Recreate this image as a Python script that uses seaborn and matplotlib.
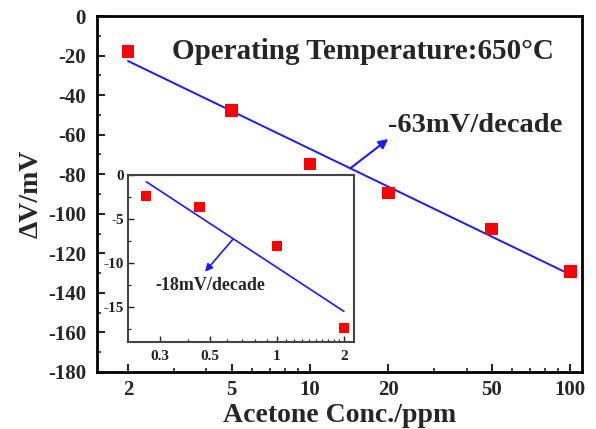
import numpy as np
import pandas as pd
import matplotlib
matplotlib.use("Agg")
import matplotlib.pyplot as plt
from matplotlib.ticker import FixedLocator, FuncFormatter, NullFormatter
import seaborn as sns

# ---- data ----
conc_main = [2, 5, 10, 20, 50, 100]
dv_main = [-18.0, -47.6, -74.8, -89.5, -107.7, -129.0]
conc_inset = [0.26, 0.45, 1.0, 2.0]
dv_inset = [-2.4, -3.6, -8.1, -17.4]
main_xticks = [2, 5, 10, 20, 50, 100]
main_yticks = [0, -20, -40, -60, -80, -100, -120, -140, -160, -180]
inset_xticks = [0.3, 0.5, 1, 2]
inset_yticks = [0, -5, -10, -15]
title_text = "Operating Temperature:650°C"
slope_main_text = "-63mV/decade"
slope_inset_text = "-18mV/decade"

sns.set_theme(style="white")
plt.rcParams['font.family'] = ['Liberation Serif', 'DejaVu Serif']
plt.rcParams['font.weight'] = 'bold'
plt.rcParams['axes.unicode_minus'] = False
plt.rcParams['mathtext.default'] = 'regular'

fmt = FuncFormatter(lambda v, _: f"{v:g}")

fig = plt.figure(figsize=(5.96, 4.29), dpi=100)
ax = fig.add_axes([0.1628, 0.1329, 0.8137, 0.8298])

df_main = pd.DataFrame({"conc": conc_main, "dv": dv_main})
# linear fit in log10(conc)
p = np.polyfit(np.log10(conc_main), dv_main, 1)
fit_main = pd.DataFrame({"conc": [conc_main[0], conc_main[-1]],
                         "dv": np.polyval(p, np.log10([conc_main[0], conc_main[-1]]))})

sns.lineplot(data=fit_main, x="conc", y="dv", ax=ax, color="#1a1aff", lw=1.4)
sns.scatterplot(data=df_main, x="conc", y="dv", ax=ax, marker="s", s=85,
                color="#ff0000", edgecolor="none", zorder=5)

ax.set_xscale("log")
ax.set_xlim(1.52, 111)
ax.set_ylim(-180, 0)
ax.xaxis.set_major_locator(FixedLocator(main_xticks))
ax.xaxis.set_major_formatter(fmt)
ax.xaxis.set_minor_locator(FixedLocator([3, 4, 6, 7, 8, 9, 30, 40, 60, 70, 80, 90]))
ax.xaxis.set_minor_formatter(NullFormatter())
ax.yaxis.set_major_locator(FixedLocator(main_yticks))
ax.yaxis.set_major_formatter(fmt)
ax.yaxis.set_minor_locator(FixedLocator(list(range(-170, 0, 20))))
ax.tick_params(which="major", direction="in", length=6, width=1.5,
               labelsize=15, bottom=True, left=True, top=False, right=False, pad=8)
ax.tick_params(axis="x", which="major", pad=6)
ax.tick_params(which="minor", direction="in", length=3, width=1.2,
               bottom=True, left=True, top=False, right=False)
for s in ax.spines.values():
    s.set_linewidth(2)
    s.set_color("black")
for lab in ax.get_xticklabels() + ax.get_yticklabels():
    lab.set_fontweight("bold")
ax.set_xlabel("Acetone Conc./ppm", fontsize=20, fontweight="bold", va="baseline")
ax.xaxis.set_label_coords(0.5, -0.1404)
ax.set_ylabel("ΔV/mV", fontsize=20, fontweight="bold", labelpad=3)

ax.text(0.155, 0.899, title_text, transform=ax.transAxes, fontsize=21,
        fontweight="bold", ha="left", va="center")
ax.annotate("", xy=(20, -62.2), xytext=(14.3, -77.0),
            arrowprops=dict(arrowstyle="-|>", color="#1a1aff", lw=1.5,
                            mutation_scale=14, shrinkA=0, shrinkB=0))
ax.text(20, -55.5, slope_main_text, fontsize=20.5, fontweight="bold",
        ha="left", va="center")

# ---- inset ----
axi = fig.add_axes([0.2148, 0.2028, 0.3792, 0.3892])
df_in = pd.DataFrame({"conc": conc_inset, "dv": dv_inset})
pi = np.polyfit(np.log10(conc_inset), dv_inset, 1)
fit_in = pd.DataFrame({"conc": [conc_inset[0], conc_inset[-1]],
                       "dv": np.polyval(pi, np.log10([conc_inset[0], conc_inset[-1]]))})
sns.lineplot(data=fit_in, x="conc", y="dv", ax=axi, color="#1a1aff", lw=1.2)
sns.scatterplot(data=df_in, x="conc", y="dv", ax=axi, marker="s", s=55,
                color="#ff0000", edgecolor="none", zorder=5)
axi.set_xscale("log")
axi.set_xlim(0.2155, 2.22)
axi.set_ylim(-19, 0)
axi.xaxis.set_major_locator(FixedLocator(inset_xticks))
axi.xaxis.set_major_formatter(fmt)
axi.xaxis.set_minor_locator(FixedLocator([0.4, 0.6, 0.7, 0.8, 0.9, 1.1, 1.2, 1.3,
                                          1.4, 1.5, 1.6, 1.7, 1.8, 1.9]))
axi.xaxis.set_minor_formatter(NullFormatter())
axi.yaxis.set_major_locator(FixedLocator(inset_yticks))
axi.yaxis.set_major_formatter(fmt)
axi.yaxis.set_minor_locator(FixedLocator([-2.5, -7.5, -12.5, -17.5]))
axi.tick_params(which="major", direction="in", length=4, width=1,
                labelsize=11, bottom=True, left=True, top=False, right=False,
                colors="#222222", pad=3)
axi.tick_params(which="minor", direction="in", length=2.5, width=0.9,
                bottom=True, left=True, top=False, right=False, colors="#222222")
axi.tick_params(axis="x", which="major", pad=6)
for lab in axi.get_xticklabels() + axi.get_yticklabels():
    lab.set_fontweight("bold")
for s in axi.spines.values():
    s.set_linewidth(1.5)
    s.set_color("#444444")
axi.set_xlabel("")
axi.set_ylabel("")
axi.annotate("", xy=(0.477, -11.0), xytext=(0.638, -7.27),
             arrowprops=dict(arrowstyle="-|>", color="#1a1aff", lw=1.2,
                             mutation_scale=11, shrinkA=0, shrinkB=0))
axi.text(0.503, -12.6, slope_inset_text, fontsize=13, fontweight="bold",
         ha="center", va="center")

fig.savefig("out.png", dpi=100)
